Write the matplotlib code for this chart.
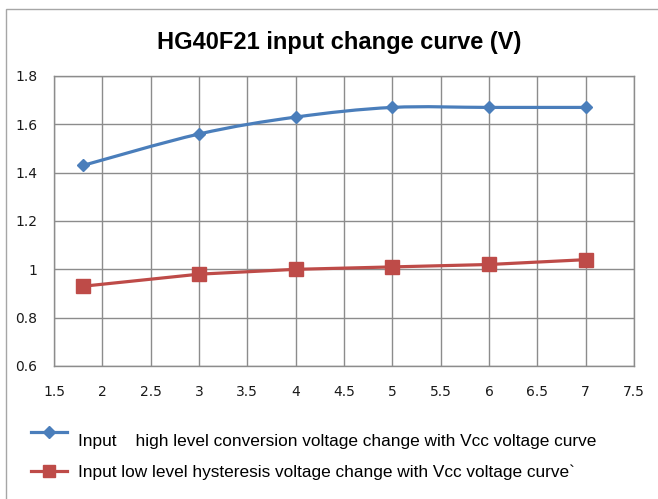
import matplotlib
matplotlib.use("Agg")
import matplotlib.pyplot as plt
from matplotlib.path import Path
from matplotlib.patches import PathPatch, Rectangle
from matplotlib.lines import Line2D
import numpy as np

plt.rcParams['font.family'] = ['Liberation Sans', 'DejaVu Sans']

title = "HG40F21 input change curve (V)"
vcc = [1.8, 3, 4, 5, 6, 7]
high_level = [1.43, 1.56, 1.63, 1.67, 1.67, 1.67]
low_level = [0.93, 0.98, 1.00, 1.01, 1.02, 1.04]
label_high = "Input    high level conversion voltage change with Vcc voltage curve"
label_low = "Input low level hysteresis voltage change with Vcc voltage curve`"
x_ticks = [1.5, 2, 2.5, 3, 3.5, 4, 4.5, 5, 5.5, 6, 6.5, 7, 7.5]
y_ticks = [0.6, 0.8, 1.0, 1.2, 1.4, 1.6, 1.8]
x_ticklabels = ["1.5", "2", "2.5", "3", "3.5", "4", "4.5", "5", "5.5", "6", "6.5", "7", "7.5"]
y_ticklabels = ["0.6", "0.8", "1", "1.2", "1.4", "1.6", "1.8"]

BLUE = "#4A7EBB"
RED = "#BE4B48"
GRID = "#8C8C8C"

W, H = 658, 499
fig = plt.figure(figsize=(W / 100, H / 100), dpi=100)
fig.patch.set_facecolor("white")

# outer chart frame
fig.patches.append(Rectangle((6 / W, -0.1), 1.2, 1 - 9 / H + 0.1, transform=fig.transFigure,
                             fill=False, edgecolor="#A6A6A6", linewidth=1.0))

ax = fig.add_axes([54 / W, 1 - 366 / H, (634 - 54) / W, (366 - 76) / H])
ax.set_xlim(x_ticks[0], x_ticks[-1])
ax.set_ylim(y_ticks[0], y_ticks[-1])
ax.set_xticks(x_ticks)
ax.set_xticklabels(x_ticklabels, family='DejaVu Sans')
ax.set_yticks(y_ticks)
ax.set_yticklabels(y_ticklabels, family='DejaVu Sans')
ax.tick_params(length=0, labelsize=10, colors="#1A1A1A")
ax.tick_params(axis='x', pad=14)
ax.tick_params(axis='y', pad=12)
ax.grid(True, color=GRID, linewidth=1.0)
ax.set_axisbelow(True)
for s in ax.spines.values():
    s.set_color(GRID)
    s.set_linewidth(1.0)


def smooth_path(xs, ys):
    pts = np.column_stack([xs, ys]).astype(float)
    n = len(pts)
    verts = [pts[0]]
    codes = [Path.MOVETO]
    for i in range(n - 1):
        p0 = pts[i - 1] if i > 0 else pts[i]
        p1 = pts[i]
        p2 = pts[i + 1]
        p3 = pts[i + 2] if i + 2 < n else pts[i + 1]
        c1 = p1 + (p2 - p0) / 6.0
        c2 = p2 - (p3 - p1) / 6.0
        verts += [c1, c2, p2]
        codes += [Path.CURVE4] * 3
    return Path(verts, codes)


ax.add_patch(PathPatch(smooth_path(vcc, high_level), fill=False, edgecolor=BLUE,
                       linewidth=2.3, capstyle='round', joinstyle='round', zorder=3))
ax.plot(vcc, high_level, linestyle='none', marker='D', markersize=6.5, color=BLUE, zorder=4)
ax.plot(vcc, low_level, color=RED, linewidth=2.3, marker='s', markersize=10, zorder=4)

fig.text(339 / W, 1 - 43 / H, title, ha='center', va='center', fontsize=17,
         fontweight='bold', color="#000000")

# legend below the plot (handles + labels)
leg_rows = [(BLUE, 'D', 6.5, 432, 440, label_high),
            (RED, 's', 9, 471, 471, label_low)]
for color, mk, ms, yline, ytext, lab in leg_rows:
    fig.add_artist(Line2D([31 / W, 67 / W], [1 - yline / H, 1 - yline / H],
                          transform=fig.transFigure, color=color, linewidth=2.3))
    fig.add_artist(Line2D([49 / W], [1 - yline / H], transform=fig.transFigure,
                          color=color, marker=mk, markersize=ms, linestyle='none'))
    fig.text(78 / W, 1 - ytext / H, lab, ha='left', va='center_baseline',
             fontsize=12.4, color="#000000")

fig.savefig("out.png", dpi=100, facecolor="white")
